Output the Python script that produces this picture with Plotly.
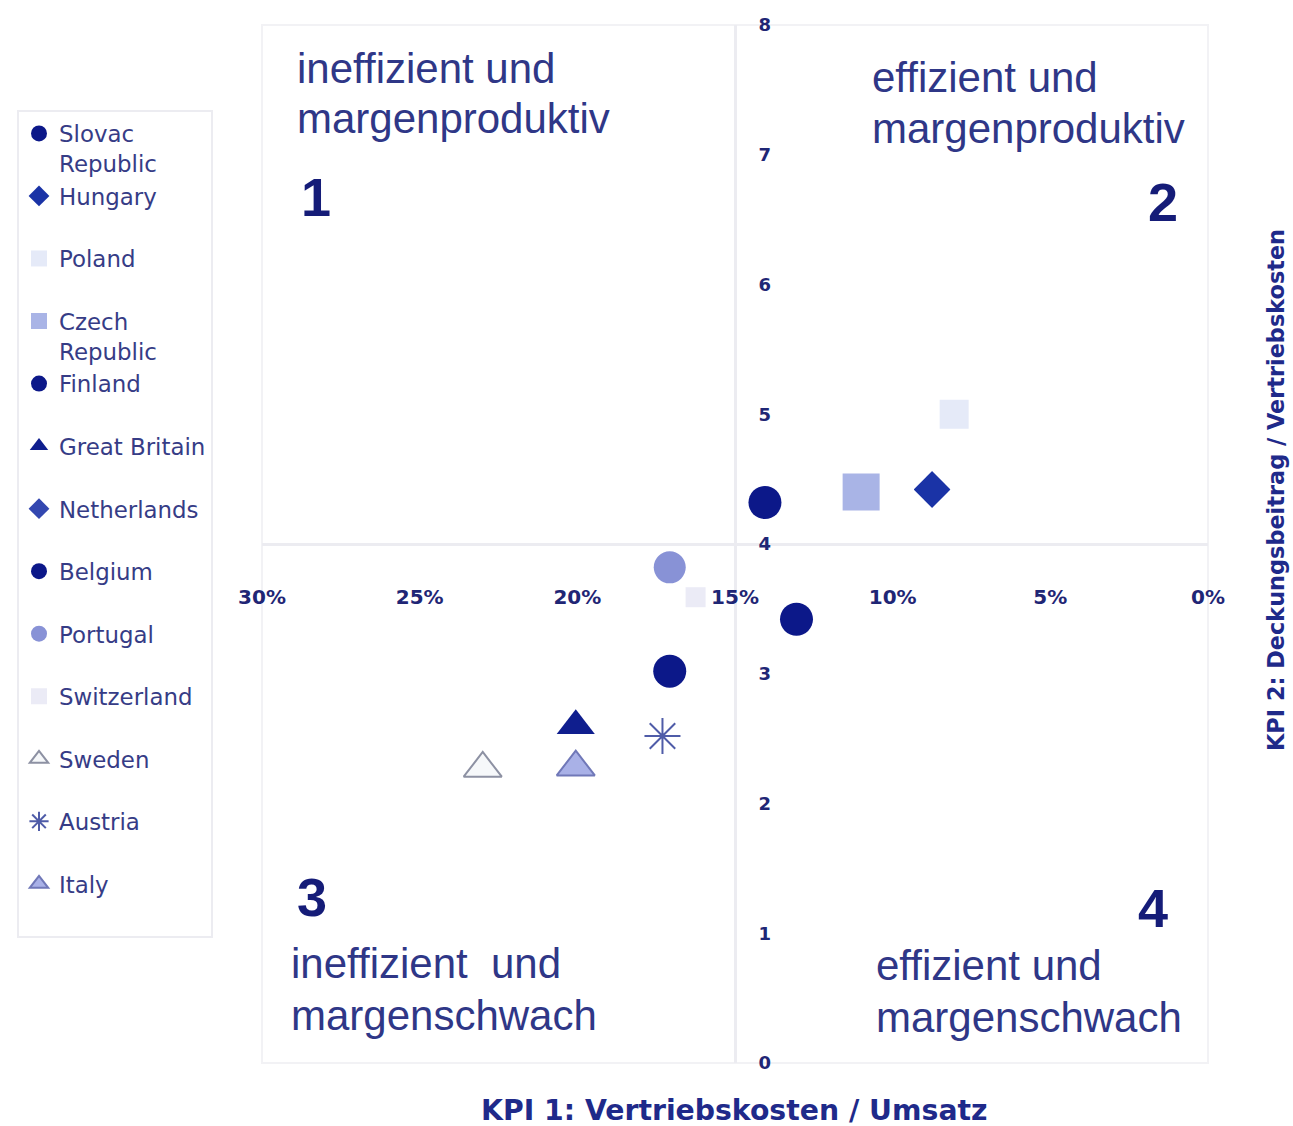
import plotly.graph_objects as go

# KPI portfolio: sales cost ratio (x, %) vs. contribution margin / sales cost (y)
countries = ["Slovac<br>Republic", "Hungary", "Poland", "Czech<br>Republic", "Finland",
             "Great Britain", "Netherlands", "Belgium", "Portugal", "Switzerland",
             "Sweden", "Austria", "Italy"]
kpi1_cost_ratio = [14.05, 8.75, 8.05, 11.0, 13.05, 20.05, 8.75, 17.07, 17.07, 16.25, 23.0, 17.3, 20.05]
kpi2_margin_ratio = [4.32, 4.42, 5.0, 4.4, 3.42, 2.6, 4.42, 3.02, 3.82, 3.59, 2.27, 2.52, 2.28]

x_ticks = [30, 25, 20, 15, 10, 5, 0]
x_tick_text = ["30%", "25%", "20%", "15%", "10%", "5%", "0%"]
y_ticks = [0, 1, 2, 3, 4, 5, 6, 7, 8]

NAVY = "#0c1889"
styles = {
    "Slovac<br>Republic": dict(symbol="circle", size=33, color=NAVY, line=dict(width=0)),
    "Hungary": dict(symbol="diamond", size=28, color="#1a33a6", line=dict(width=0)),
    "Poland": dict(symbol="square", size=29, color="#e5eaf8", line=dict(width=0)),
    "Czech<br>Republic": dict(symbol="square", size=37, color="#a9b4e6", line=dict(width=0)),
    "Finland": dict(symbol="circle", size=33, color=NAVY, line=dict(width=0)),
    "Great Britain": dict(symbol="triangle-up", size=33, color="#0f1e8e", line=dict(width=0)),
    "Netherlands": dict(symbol="diamond", size=28, color="#3347b0", line=dict(width=0)),
    "Belgium": dict(symbol="circle", size=33, color=NAVY, line=dict(width=0)),
    "Portugal": dict(symbol="circle", size=32, color="#8892d6", line=dict(width=0)),
    "Switzerland": dict(symbol="square", size=20, color="#ebebf6", line=dict(width=0)),
    "Sweden": dict(symbol="triangle-up", size=33, color="#f6f8fa", line=dict(width=2, color="#8d91a3")),
    "Austria": dict(symbol="asterisk-open", size=30, color="#4f5ca8", line=dict(width=2, color="#4f5ca8")),
    "Italy": dict(symbol="triangle-up", size=33, color="#a9b1e7", line=dict(width=2, color="#7078b8")),
}

fig = go.Figure()

# Netherlands lies underneath Hungary, so draw it first
draw_order = [6] + [i for i in range(len(countries)) if i != 6]
legend_rank = {c: i for i, c in enumerate(countries)}
for i in draw_order:
    name = countries[i]
    label = name if "<br>" in name else name + "<br> "
    fig.add_trace(go.Scatter(
        x=[kpi1_cost_ratio[i]], y=[kpi2_margin_ratio[i]],
        mode="markers", name=label,
        legendrank=legend_rank[name] + 1,
        marker=styles[name],
        hoverinfo="skip",
    ))

TICK_COLOR = "#1f2675"
fig.update_xaxes(
    range=[30, 0], tickvals=x_ticks, ticktext=x_tick_text,
    anchor="free", position=0.5, showgrid=False, zeroline=False,
    showline=True, linecolor="#ececf1", linewidth=3, ticks="",
    tickfont=dict(family="DejaVu Sans", size=20, color=TICK_COLOR, weight="bold"),
    ticklabelstandoff=34,
)
fig.update_yaxes(
    range=[0, 8], tickvals=y_ticks,
    anchor="free", position=0.5, side="right", showgrid=False, zeroline=False,
    showline=True, linecolor="#ececf1", linewidth=3, ticks="",
    tickfont=dict(family="DejaVu Sans", size=18, color=TICK_COLOR, weight="bold"),
    ticklabelstandoff=18,
)

QTEXT = "#2f3787"
QNUM = "#151c78"
def px_x(px):
    return (px - 262) / 946
def px_y(py):
    return (1063 - py) / 1038

quadrant_lines = [
    (295, 68, "ineffizient und"), (295, 118, "margenproduktiv"),
    (870, 77, "effizient und"), (870, 128, "margenproduktiv"),
    (289, 963, "ineffizient\u00a0 und"), (289, 1015, "margenschwach"),
    (874, 965, "effizient und"), (874, 1017, "margenschwach"),
]
for x, y, t in quadrant_lines:
    fig.add_annotation(x=px_x(x), y=px_y(y), xref="paper", yref="paper", text=t,
                       showarrow=False, xanchor="left", yanchor="middle",
                       font=dict(family="Liberation Sans", size=42, color=QTEXT))

quadrant_numbers = [(316, 197, "1"), (1163, 202, "2"), (312, 897, "3"), (1153, 908, "4")]
for x, y, t in quadrant_numbers:
    fig.add_annotation(x=px_x(x), y=px_y(y), xref="paper", yref="paper", text=t,
                       showarrow=False, xanchor="center", yanchor="middle",
                       font=dict(family="Liberation Sans", size=54, color=QNUM, weight="bold"))

fig.add_annotation(x=px_x(734), y=px_y(1110), xref="paper", yref="paper",
                   text="KPI 1: Vertriebskosten / Umsatz", showarrow=False,
                   xanchor="center", yanchor="middle",
                   font=dict(family="DejaVu Sans", size=28.3, color="#1f2a8a", weight="bold"))
fig.add_annotation(x=px_x(1276), y=px_y(490), xref="paper", yref="paper",
                   text="KPI 2: Deckungsbeitrag / Vertriebskosten", showarrow=False,
                   textangle=-90, xanchor="center", yanchor="middle",
                   font=dict(family="DejaVu Sans", size=22.4, color="#1f2a8a", weight="bold"))

# faint frame around the plotting area
fig.add_shape(type="rect", xref="paper", yref="paper", x0=0, y0=0, x1=1, y1=1,
              line=dict(color="#f2f2f5", width=2), layer="below")

fig.update_layout(
    width=1293, height=1126,
    margin=dict(l=262, r=85, t=25, b=63),
    paper_bgcolor="white", plot_bgcolor="white",
    showlegend=True,
    legend=dict(
        x=px_x(17), y=px_y(110), xanchor="left", yanchor="top",
        bgcolor="white", bordercolor="#ececf1", borderwidth=2,
        valign="top", traceorder="normal",
        font=dict(family="DejaVu Sans", size=22.9, color="#363c86"),
    ),
)

fig.write_html("out.html")
